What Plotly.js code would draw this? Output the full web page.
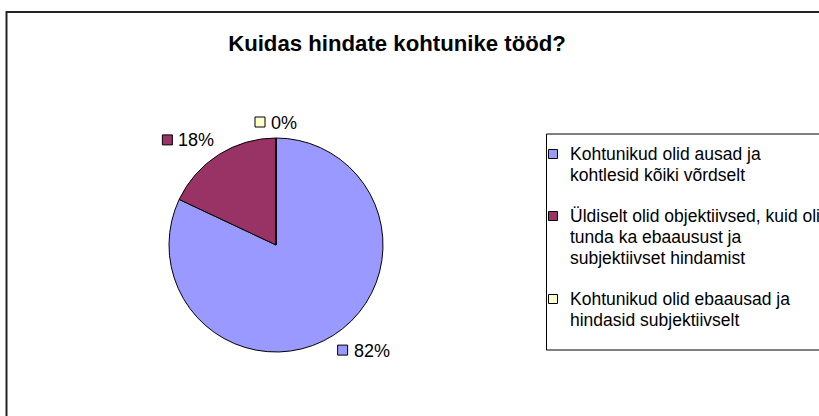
<!DOCTYPE html>
<html>
<head>
<meta charset="utf-8">
<script src="https://cdn.plot.ly/plotly-3.0.1.min.js"></script>
<style>html,body{margin:0;padding:0;background:#fff;}#chart{width:819px;height:416px;}</style>
</head>
<body>
<div id="chart"></div>
<script>
const categories = [
  "Kohtunikud olid ausad ja<br>kohtlesid kõiki võrdselt",
  "Üldiselt olid objektiivsed, kuid oli<br>tunda ka ebaausust ja<br>subjektiivset hindamist",
  "Kohtunikud olid ebaausad ja<br>hindasid subjektiivselt"
];
const values = [82, 18, 0];
const colors = ["#9999FF", "#993366", "#FFFFCC"];
const titleText = "Kuidas hindate kohtunike tööd?";

const W = 819, H = 416;
const cx = 276, cy = 245, r = 107;
const FONT = "Liberation Sans, Arial, sans-serif";
const px2x = p => p / W, px2y = p => 1 - p / H;

const total = values.reduce((a, b) => a + b, 0);
const annotations = [];
const shapes = [];

// outer chart border
shapes.push({type: "rect", xref: "paper", yref: "paper",
  x0: px2x(6.5), x1: 1.2, y0: px2y(12), y1: -0.2,
  line: {color: "#222", width: 2}, fillcolor: "rgba(0,0,0,0)", layer: "below"});

// data labels with key squares, placed from slice mid-angles
let cum = 0;
values.forEach((v, i) => {
  const frac = v / total;
  const mid = (cum + frac / 2) * 2 * Math.PI; // clockwise from 12 o'clock
  cum += frac;
  const s = Math.sin(mid), c = Math.cos(mid);
  const sgn = t => (Math.abs(t) < 0.1 ? 0 : Math.sign(t));
  const txt = Math.round(frac * 100) + "%";
  const tw = (txt.length - 1) * 10 + 16;
  const bw = 16 + tw, bh = 16;
  const R = r + 8;
  const bx = cx + R * s + (bw / 2) * sgn(s);
  const by = cy - R * c - (bh / 2) * sgn(c);
  const left = bx - bw / 2;
  shapes.push({type: "rect", xref: "paper", yref: "paper",
    x0: px2x(left), x1: px2x(left + 10),
    y0: px2y(by - 5), y1: px2y(by + 5),
    fillcolor: colors[i], line: {color: "#000", width: 1}});
  annotations.push({xref: "paper", yref: "paper", x: px2x(left + 14), y: px2y(by + 0.5),
    xanchor: "left", yanchor: "middle", showarrow: false, text: txt,
    font: {family: FONT, size: 18, color: "#000"}});
});

// legend box and entries (custom, Excel-style)
const legLeft = 546.5, legTop = 134, legBottom = 350;
shapes.push({type: "rect", xref: "paper", yref: "paper",
  x0: px2x(legLeft), x1: 1.2, y0: px2y(legTop), y1: px2y(legBottom),
  line: {color: "#000", width: 1}, fillcolor: "#fff"});
const lineStep = 21;
let ly = 154;
categories.forEach((lab, i) => {
  const lines = lab.split("<br>");
  shapes.push({type: "rect", xref: "paper", yref: "paper",
    x0: px2x(548.5), x1: px2x(557.5), y0: px2y(ly - 4.5), y1: px2y(ly + 4.5),
    fillcolor: colors[i], line: {color: "#000", width: 1}});
  lines.forEach((t, j) => {
    annotations.push({xref: "paper", yref: "paper", x: px2x(567.5), y: px2y(ly + j * lineStep),
      xanchor: "left", yanchor: "middle", showarrow: false, text: t,
      font: {family: FONT, size: 17.5, color: "#000"}});
  });
  ly += lines.length * lineStep + 20;
});

const data = [{
  type: "pie",
  labels: categories,
  values: values,
  sort: false,
  direction: "clockwise",
  rotation: 0,
  textinfo: "none",
  hoverinfo: "label+percent",
  showlegend: false,
  marker: {colors: colors, line: {color: "#000", width: 1}},
  domain: {x: [px2x(cx - r), px2x(cx + r)], y: [px2y(cy + r), px2y(cy - r)]}
}];

const layout = {
  width: W, height: H,
  margin: {l: 0, r: 0, t: 0, b: 0, autoexpand: false},
  paper_bgcolor: "#fff",
  font: {family: FONT, color: "#000"},
  title: {text: "<b>" + titleText + "</b>", x: px2x(397), xanchor: "center",
    y: px2y(43), yanchor: "middle", font: {family: FONT, size: 22.2, color: "#000"}},
  showlegend: false,
  shapes: shapes,
  annotations: annotations
};

Plotly.newPlot("chart", data, layout, {displayModeBar: false, staticPlot: true});
</script>
</body>
</html>
